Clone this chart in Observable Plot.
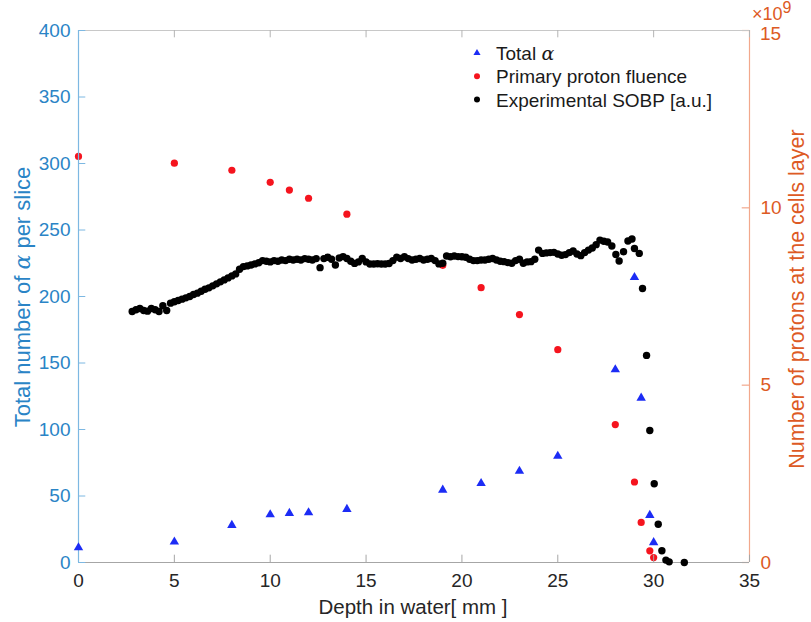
<!DOCTYPE html>
<html><head><meta charset="utf-8">
<script src="https://cdn.jsdelivr.net/npm/d3@7"></script>
<script src="https://cdn.jsdelivr.net/npm/@observablehq/plot@0.6"></script>
<style>
body{margin:0;background:#fff;}
#wrap{position:relative;width:811px;height:622px;overflow:hidden;}
#wrap svg{position:absolute;left:0;top:0;}
</style></head><body><div id="wrap"></div>
<script>
// ---- data ----
const alphaDepth = [0,5,8,10,11,12,14,19,21,23,25,28,29,29.35,29.8,30];
const alphaTotal = [11.2,15.5,28,36,37,37.5,40,54.5,59.5,68.7,80,145,214.4,123.7,35.5,15];
const fluenceDepth = [0,5,8,10,11,12,14,19,21,23,25,28,29,29.35,29.8,30];
const fluence = [11.45,11.26,11.06,10.72,10.5,10.27,9.82,8.38,7.75,6.99,6.0,3.89,2.27,1.13,0.33,0.14]; // ×10^9
const sobpDepth = [2.8,3.0,3.2,3.4,3.6,3.8,4.0,4.2,4.4,4.6,4.8,5.0,5.2,5.4,5.6,5.8,6.0,6.2,6.4,6.6,6.8,7.0,7.2,7.4,7.6,7.8,8.0,8.2,8.4,8.6,8.8,9.0,9.2,9.4,9.6,9.8,10.0,10.2,10.4,10.6,10.8,11.0,11.2,11.4,11.6,11.8,12.0,12.2,12.4,12.6,12.8,13.0,13.2,13.4,13.6,13.8,14.0,14.2,14.4,14.6,14.8,15.0,15.2,15.4,15.6,15.8,16.0,16.2,16.4,16.6,16.8,17.0,17.2,17.4,17.6,17.8,18.0,18.2,18.4,18.6,18.8,19.0,19.2,19.4,19.6,19.8,20.0,20.2,20.4,20.6,20.8,21.0,21.2,21.4,21.6,21.8,22.0,22.2,22.4,22.6,22.8,23.0,23.2,23.4,23.6,23.8,24.0,24.2,24.4,24.6,24.8,25.0,25.2,25.4,25.6,25.8,26.0,26.2,26.4,26.6,26.8,27.0,27.2,27.4,27.6,27.82,28.03,28.2,28.43,28.66,28.87,29.0,29.25,29.42,29.63,29.8,30.03,30.24,30.43,30.64,30.81,31.6];
const sobp = [188.7,190,191,189.5,189,191,190,188.7,193,189.5,195,196,197,198,199,200,201.5,202.5,204,205.4,206.5,208,209.5,211,212.5,214,215.5,217,220.5,222.5,223,223.7,224.5,225.4,227,226.5,226,227,226.5,227.5,227,228,227.5,228,227.5,228.5,228,227.5,228.5,221.7,228.5,229.5,228,223.7,229,230,228.6,226.5,224.9,226,228.6,226,224.4,224.4,224.6,224.4,224.4,224.8,227,229.6,228.6,229.9,228.5,227.4,228,228.6,227.4,228,228.6,227,224.5,225,230.4,229.9,230.4,230,229.9,229.5,228,227,227,227.4,227.4,228,228.6,227.4,226.5,226.2,225.5,225,227,228,225,226,226.2,228,234.9,232.4,232.8,233,233.2,232,231,231.5,233,234.2,232,230.7,233,234.9,236.5,239,242.4,241.5,241,238,231.6,226.7,233.7,241.7,243.2,236.1,232.4,206,155.7,99.3,59.2,28.8,8.8,1.8,0.5,0];
const xTicks = [0,5,10,15,20,25,30,35];
const leftTicks = [0,50,100,150,200,250,300,350,400];
const rightTicks = [0,5,10,15];
const xTitle = "Depth in water[ mm ]";
const leftTitle = ["Total number of ", "α", " per slice"];
const rightTitle = "Number of protons at the cells layer";
const legendLabels = [["Total ", "α"], ["Primary proton fluence", ""], ["Experimental SOBP [a.u.]", ""]];

// ---- styling ----
const W = 811, H = 622;
const font = "'Liberation Sans', Arial, Helvetica, sans-serif";
const serif = "'DejaVu Serif', 'Liberation Serif', serif";
const blue = "#2a84c6", orange = "#dd5a24", dark = "#262626";
const blueLine = "#7db8e2", orangeLine = "#f2a88c";
const triColor = "#1c2cf5", redColor = "#f5141e";
const common = {
  width: W, height: H, marginLeft: 78, marginRight: 62, marginTop: 30, marginBottom: 60,
  style: {fontFamily: font, fontSize: "19px", background: "transparent", overflow: "visible"}
};

const alphaRows = alphaDepth.map((d, i) => ({d, v: alphaTotal[i]}));
const fluRows = fluenceDepth.map((d, i) => ({d, v: fluence[i]}));
const sobpRows = sobpDepth.map((d, i) => ({d, v: sobp[i]}));

// right axis plot (underneath)
const right = Plot.plot({
  ...common,
  x: {domain: [0, 35], axis: null},
  y: {domain: [0, 15], axis: null},
  marks: [
    Plot.ruleX([35], {stroke: orangeLine, strokeWidth: 1.2}),
    Plot.ruleY(rightTicks, {x1: 34.62, x2: 35, stroke: orangeLine, strokeWidth: 1.2}),
    Plot.axisY({anchor: "right", ticks: rightTicks.slice(0, 3), tickSize: 0, tickPadding: 11, color: orange, label: null}),
    Plot.dot(fluRows, {x: "d", y: "v", r: 3.6, fill: redColor, stroke: null})
  ]
});

// left axis plot (on top)
const left = Plot.plot({
  ...common,
  x: {domain: [0, 35], axis: null},
  y: {domain: [0, 400], axis: null},
  marks: [
    Plot.ruleY([400], {stroke: "#c8c8c8"}),
    Plot.ruleX(xTicks, {y1: 394.5, y2: 400, stroke: "#b4b4b4"}),
    Plot.ruleX(xTicks, {y1: 0, y2: 5.5, stroke: "#a6a6a6"}),
    Plot.ruleY([0], {stroke: "#a6a6a6", strokeWidth: 1.2}),
    Plot.ruleY(leftTicks, {x1: 0, x2: 0.38, stroke: blueLine}),
    Plot.ruleX([0], {stroke: blueLine, strokeWidth: 1.2}),
    Plot.axisX({ticks: xTicks, tickSize: 0, tickPadding: 11, color: dark, label: null}),
    Plot.axisY({ticks: leftTicks, tickSize: 0, tickPadding: 8, color: blue, label: null}),
    Plot.dot(sobpRows, {x: "d", y: "v", r: 3.7, fill: "#000", stroke: null}),
    Plot.dot(alphaRows, {x: "d", y: "v", r: 3.5, symbol: "triangle", fill: triColor, stroke: null})
  ]
});

const wrap = document.getElementById("wrap");
wrap.appendChild(right);
wrap.appendChild(left);

const svg = d3.select(left);
// x title
svg.append("text").attr("x", 413).attr("y", 606).attr("text-anchor", "middle")
  .attr("dominant-baseline", "central").attr("fill", dark)
  .style("font-family", font).style("font-size", "20.5px").text(xTitle);
// left title
const lt = svg.append("text").attr("transform", "translate(22,297) rotate(-90)")
  .attr("text-anchor", "middle").attr("dominant-baseline", "central").attr("fill", blue)
  .style("font-family", font).style("font-size", "22px");
lt.append("tspan").text(leftTitle[0]);
lt.append("tspan").style("font-family", serif).style("font-style", "italic").text(leftTitle[1]);
lt.append("tspan").text(leftTitle[2]);
// right title
svg.append("text").attr("transform", "translate(797,299) rotate(-90)")
  .attr("text-anchor", "middle").attr("dominant-baseline", "central").attr("fill", orange)
  .style("font-family", font).style("font-size", "21.5px").text(rightTitle);
// exponent label + 15
const ex = svg.append("text").attr("x", 752).attr("y", 20).attr("text-anchor", "start").attr("fill", orange)
  .style("font-family", font).style("font-size", "18px");
ex.append("tspan").text("×10");
ex.append("tspan").attr("dy", -7).style("font-size", "16px").text("9");
svg.append("text").attr("x", 760).attr("y", 33).attr("text-anchor", "start").attr("dominant-baseline", "central")
  .attr("fill", orange).style("font-family", font).style("font-size", "19px").text(String(rightTicks[3]));

// legend
const legColors = [triColor, redColor, "#000"];
legendLabels.forEach((lab, i) => {
  const y = 53 + i * 23.3;
  if (i === 0) {
    svg.append("path").attr("d", d3.symbol(d3.symbolTriangle, 22)()).attr("transform", `translate(477,${y})`).attr("fill", legColors[i]);
  } else {
    svg.append("circle").attr("cx", 477).attr("cy", y).attr("r", 3).attr("fill", legColors[i]);
  }
  const t = svg.append("text").attr("x", 496).attr("y", y).attr("text-anchor", "start").attr("dominant-baseline", "central")
    .attr("fill", "#1a1a1a").style("font-family", font).style("font-size", "19px");
  t.append("tspan").text(lab[0]);
  if (lab[1]) t.append("tspan").style("font-family", serif).style("font-style", "italic").text(lab[1]);
});
</script>
</body></html>
